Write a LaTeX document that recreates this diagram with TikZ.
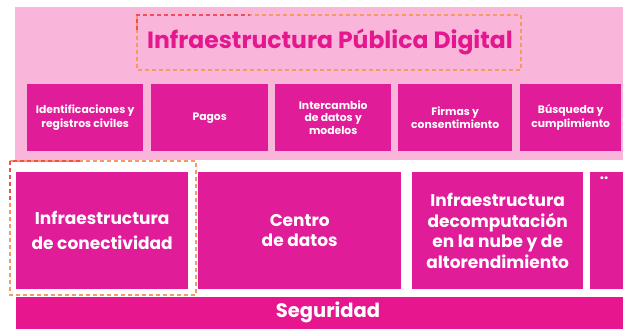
\documentclass[tikz,border=0pt]{standalone}
\usepackage{fontspec}
\setmainfont{Poppins}
\usetikzlibrary{positioning}

\definecolor{panelpink}{HTML}{F9B6DA}
\definecolor{boxmag}{HTML}{E01C98}
\definecolor{segmag}{HTML}{E8168E}
\definecolor{titlemag}{HTML}{E4178F}
\definecolor{dashred}{HTML}{F04E50}
\definecolor{dashorange}{HTML}{F49A62}

\tikzset{
  topbox/.style={fill=boxmag, text=white, inner sep=0pt, align=center,
    anchor=north west, minimum height=67,
    font=\fontsize{10.8}{13.5}\selectfont\bfseries},
  lowbox/.style={fill=boxmag, text=white, inner sep=0pt, align=center,
    anchor=north west, minimum height=117,
    font=\fontsize{17}{20.5}\selectfont\bfseries},
  hilite/.style={draw=dashorange, line width=1.3pt, dash pattern=on 4pt off 3pt}
}

\begin{document}
\begin{tikzpicture}[x=1pt,y=1pt]
\useasboundingbox (0,0) rectangle (623,-329);
\fill[white] (0,0) rectangle (623,-329);
% upper band
\fill[panelpink] (15,-7) rectangle (623,-160);
\node[font=\fontsize{23.5}{27}\selectfont\bfseries, text=titlemag] (title) at (330,-42) {Infraestructura Pública Digital};
\draw[hilite] (137,-15) rectangle (521,-70);
\draw[draw=dashred, line width=1.3pt, dash pattern=on 4pt off 3pt] (137,-30) -- (137,-15) -- (250,-15);

\node[topbox, minimum width=116] (idreg) at (27,-84) {Identificaciones y\\registros civiles};
\node[topbox, minimum width=117] (pagos) at (151,-84) {Pagos};
\node[topbox, minimum width=116, font=\fontsize{10.8}{12.5}\selectfont\bfseries] (interc) at (275,-84) {Intercambio\\de datos y\\modelos};
\node[topbox, minimum width=114] (firmas) at (398,-84) {Firmas y\\consentimiento};
\node[topbox, minimum width=101] (busq) at (520,-84) {Búsqueda y\\cumplimiento};

% lower row
\node[lowbox, minimum width=172, font=\fontsize{17}{25}\selectfont\bfseries] (conect) at (16,-172) {Infraestructura\\de conectividad};
\node[lowbox, minimum width=203] (centro) at (198,-172) {Centro\\de datos};
\node[lowbox, minimum width=171] (nube) at (412,-172) {Infraestructura\\decomputación\\en la nube y de\\altorendimiento};
\node[lowbox, minimum width=34] (otro) at (590,-172) {};
\node[text=white, font=\fontsize{15}{15}\selectfont\bfseries, anchor=north] (puntos) at ([xshift=-3pt,yshift=-1pt]otro.north) {..};
\draw[hilite] (10,-161) rectangle (196,-295);
\draw[draw=dashred, line width=1.3pt, dash pattern=on 4pt off 3pt] (10,-200) -- (10,-161) -- (80,-161);

% security bar
\fill[segmag] (16,-297) rectangle (623,-329);
\node[text=white, font=\fontsize{19.5}{22}\selectfont\bfseries] (seg) at (328,-312) {Seguridad};
\end{tikzpicture}
\end{document}
